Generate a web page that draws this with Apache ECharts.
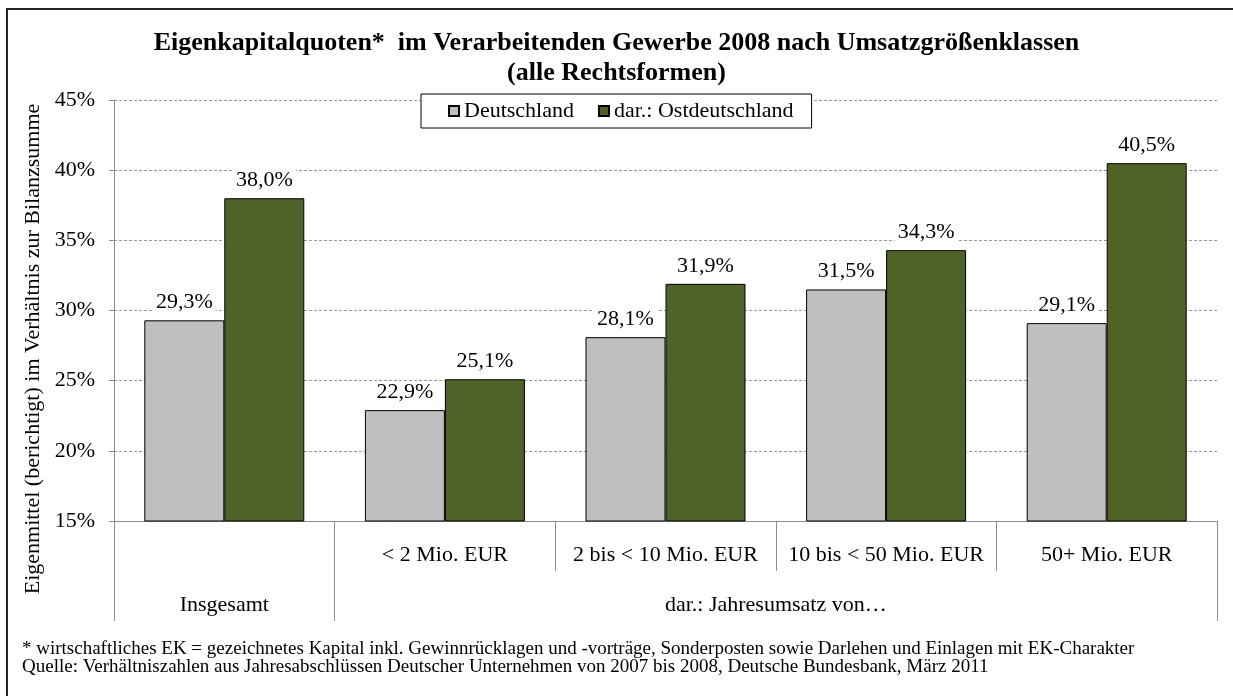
<!DOCTYPE html>
<html>
<head>
<meta charset="utf-8">
<script src="https://cdn.jsdelivr.net/npm/echarts@6/dist/echarts.min.js"></script>
<style>
  html, body { margin: 0; padding: 0; background: #fff; }
  #main { width: 1233px; height: 696px; }
</style>
</head>
<body>
<div id="main"></div>
<script>
const categories = ["Insgesamt", "< 2 Mio. EUR", "2 bis < 10 Mio. EUR", "10 bis < 50 Mio. EUR", "50+ Mio. EUR"];
const deutschland = [29.3, 22.9, 28.1, 31.5, 29.1];
const ostdeutschland = [38.0, 25.1, 31.9, 34.3, 40.5];
// Gruppen der zweiten Achsenebene: Grenzen und Beschriftungsmitten (in Kategorie-Einheiten)
const groupBounds = [0, 1, 5];
const groupCenters = [0.5, 3];
const groupLabels = ["Insgesamt", "dar.: Jahresumsatz von…"];

const font = "Liberation Serif";
const axisGray = "#8c8c8c";

const fmtPct = v => v.toFixed(1).replace(".", ",") + "%";

const myChart = echarts.init(document.getElementById("main"));

const barLabel = {
  show: true,
  position: "top",
  distance: 7,
  formatter: p => fmtPct(p.value),
  fontFamily: font,
  fontSize: 22,
  color: "#000",
  backgroundColor: "#fff",
  padding: [0, 3],
};

const option = {
  animation: false,
  title: {
    text: "Eigenkapitalquoten*  im Verarbeitenden Gewerbe 2008 nach Umsatzgrößenklassen\n(alle Rechtsformen)",
    left: "center",
    top: 28,
    padding: 0,
    textStyle: {
      fontFamily: font,
      fontSize: 26,
      fontWeight: "bold",
      lineHeight: 30,
      color: "#000",
    },
  },
  legend: {
    left: 421,
    top: 94,
    padding: [6, 18, 6, 27],
    itemGap: 24,
    itemWidth: 10,
    itemHeight: 10,
    borderColor: "#000",
    borderWidth: 1,
    backgroundColor: "#fff",
    icon: "rect",
    textStyle: { fontFamily: font, fontSize: 22, color: "#000" },
    data: ["Deutschland", "dar.: Ostdeutschland"],
  },
  grid: { left: 114, right: 16, top: 100, bottom: 175 },
  xAxis: [
    {
      type: "category",
      data: categories,
      position: "bottom",
      axisLine: { lineStyle: { color: axisGray, width: 1 } },
      axisTick: { show: true, interval: 0, length: 50, lineStyle: { color: axisGray } },
      axisLabel: {
        interval: 0,
        margin: 23,
        fontFamily: font,
        fontSize: 22,
        color: "#000",
        formatter: (v, i) => (i === 0 ? "" : v),
      },
    },
    {
      type: "value",
      min: 0,
      max: 5,
      position: "bottom",
      axisLine: { show: false },
      splitLine: { show: false },
      axisTick: { show: true, customValues: groupBounds, length: 100, lineStyle: { color: axisGray } },
      axisLabel: {
        customValues: groupCenters,
        margin: 73,
        fontFamily: font,
        fontSize: 22,
        color: "#000",
        formatter: v => groupLabels[groupCenters.indexOf(v)],
      },
    },
  ],
  yAxis: {
    type: "value",
    min: 15,
    max: 45,
    interval: 5,
    axisLine: { show: true, lineStyle: { color: axisGray } },
    axisTick: { show: true, length: 5, lineStyle: { color: axisGray } },
    axisLabel: { margin: 19, fontFamily: font, fontSize: 22, color: "#000", formatter: "{value}%" },
    splitLine: { lineStyle: { color: "#9a9a9a", type: [3, 2], width: 1 } },
  },
  series: [
    {
      name: "Deutschland",
      type: "bar",
      data: deutschland,
      barWidth: 80,
      barGap: "0%",
      itemStyle: { color: "#bfbfbf", borderColor: "#000", borderWidth: 1 },
      label: barLabel,
    },
    {
      name: "dar.: Ostdeutschland",
      type: "bar",
      data: ostdeutschland,
      barWidth: 80,
      barGap: "0%",
      itemStyle: { color: "#4f6228", borderColor: "#000", borderWidth: 1 },
      label: barLabel,
    },
  ],
  graphic: [
    {
      type: "rect",
      shape: { x: 7, y: 9, width: 1240, height: 700 },
      style: { fill: "none", stroke: "#222", lineWidth: 2 },
      silent: true,
    },
    {
      type: "text",
      x: 33,
      y: 349,
      rotation: Math.PI / 2,
      style: {
        text: "Eigenmittel (berichtigt) im Verhältnis zur Bilanzsumme",
        font: "22px " + font,
        fill: "#000",
        align: "center",
        verticalAlign: "middle",
      },
    },
    {
      type: "text",
      left: 22,
      top: 640,
      style: {
        text: "* wirtschaftliches EK = gezeichnetes Kapital inkl. Gewinnrücklagen und -vorträge, Sonderposten sowie Darlehen und Einlagen mit EK-Charakter\nQuelle: Verhältniszahlen aus Jahresabschlüssen Deutscher Unternehmen von 2007 bis 2008, Deutsche Bundesbank, März 2011",
        font: "19px " + font,
        lineHeight: 18,
        fill: "#000",
      },
    },
  ],
};

myChart.setOption(option);
</script>
</body>
</html>
